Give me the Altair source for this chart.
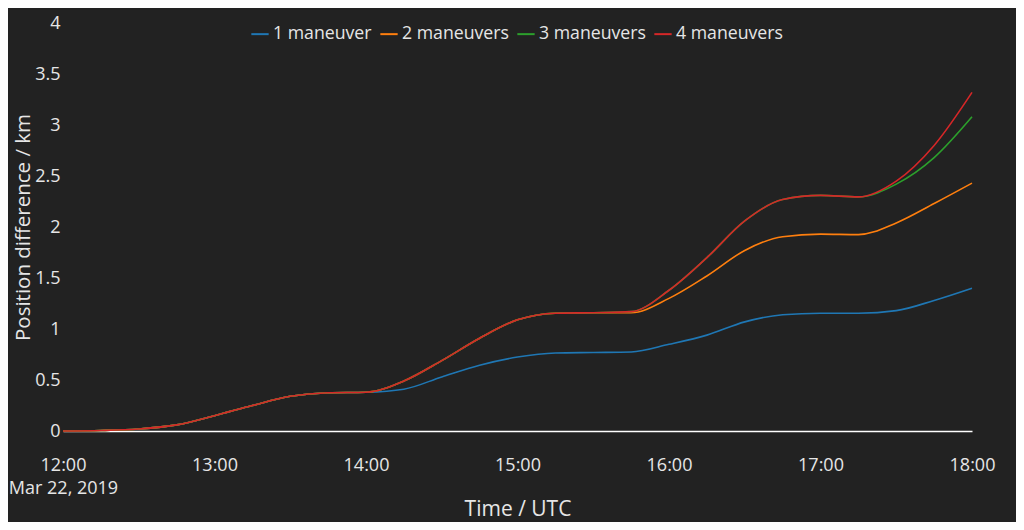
import altair as alt
import pandas as pd

times = ["12:00", "12:15", "12:30", "12:45", "13:00", "13:15", "13:30", "13:45",
         "14:00", "14:15", "14:30", "14:45", "15:00", "15:15", "15:30", "15:45",
         "16:00", "16:15", "16:30", "16:45", "17:00", "17:15", "17:30", "17:45", "18:00"]

m1 = [0, 0.005, 0.02, 0.06, 0.15, 0.25, 0.34, 0.375,
      0.38, 0.41, 0.53, 0.645, 0.725, 0.765, 0.77, 0.775,
      0.85, 0.94, 1.07, 1.14, 1.155, 1.155, 1.18, 1.28, 1.40]
m2 = [0, 0.005, 0.02, 0.06, 0.15, 0.25, 0.34, 0.375,
      0.38, 0.49, 0.69, 0.91, 1.09, 1.155, 1.16, 1.16,
      1.30, 1.52, 1.77, 1.905, 1.93, 1.925, 2.04, 2.23, 2.43]
m3 = [0, 0.005, 0.02, 0.06, 0.15, 0.25, 0.34, 0.375,
      0.38, 0.49, 0.69, 0.91, 1.09, 1.155, 1.16, 1.17,
      1.38, 1.70, 2.06, 2.27, 2.31, 2.295, 2.42, 2.68, 3.08]
m4 = [0, 0.005, 0.02, 0.06, 0.15, 0.25, 0.34, 0.375,
      0.38, 0.49, 0.69, 0.91, 1.09, 1.155, 1.16, 1.17,
      1.38, 1.70, 2.06, 2.27, 2.31, 2.295, 2.45, 2.80, 3.32]

series_names = ["1 maneuver", "2 maneuvers", "3 maneuvers", "4 maneuvers"]
series_values = [m1, m2, m3, m4]
colors = ["#1f77b4", "#ff7f0e", "#2ca02c", "#d62728"]

rows = []
for name, vals in zip(series_names, series_values):
    for t, v in zip(times, vals):
        rows.append({"time": f"2019-03-22T{t}:00Z", "value": v, "series": name})
df = pd.DataFrame(rows)

text_color = "#e6e6e6"
font = "Open Sans"

tick_values = [alt.DateTime(year=2019, month=3, date=22, hours=h, utc=True) for h in range(12, 19)]

chart = alt.Chart(df).mark_line(strokeWidth=1.6, interpolate="monotone").encode(
    x=alt.X("time:T",
            scale=alt.Scale(type="utc", nice=False),
            axis=alt.Axis(title="Time / UTC", values=tick_values,
                          labelExpr="utchours(datum.value) == 12 ? [utcFormat(datum.value, '%H:%M'), 'Mar 22, 2019'] : utcFormat(datum.value, '%H:%M')",
                          labelFlush=False, labelOverlap=False,
                          grid=False, ticks=False, domain=True, domainColor="#ffffff", domainWidth=1.5,
                          labelPadding=25, labelFontSize=18, labelLineHeight=23,
                          labelColor=text_color, labelFont=font,
                          titleFontSize=21, titleColor=text_color, titleFont=font, titleFontWeight="normal",
                          titlePadding=1)),
    y=alt.Y("value:Q",
            scale=alt.Scale(domain=[0, 4], nice=False),
            axis=alt.Axis(title="Position difference / km", values=[0, 0.5, 1, 1.5, 2, 2.5, 3, 3.5, 4],
                          format="~g", labelFlush=False,
                          grid=False, ticks=False, domain=False,
                          labelPadding=3, labelFontSize=18, labelColor=text_color, labelFont=font,
                          titleFontSize=20.5, titleColor=text_color, titleFont=font, titleFontWeight="normal",
                          titlePadding=1)),
    color=alt.Color("series:N", scale=alt.Scale(domain=series_names, range=colors),
                    legend=alt.Legend(title=None, orient="none", direction="horizontal",
                                      legendX=187, legendY=1,
                                      symbolType="stroke", symbolSize=300, symbolStrokeWidth=2,
                                      labelFontSize=17.7, labelColor=text_color, labelFont=font,
                                      columnPadding=4, labelOffset=3)),
).properties(
    width=909, height=408,
    background="#222222",
    padding={"left": 55, "top": 15, "right": 44, "bottom": 91},
    autosize=alt.AutoSizeParams(type="none"),
).configure_view(stroke=None)

chart.save("out.html", embed_options={"renderer": "svg", "actions": False})
